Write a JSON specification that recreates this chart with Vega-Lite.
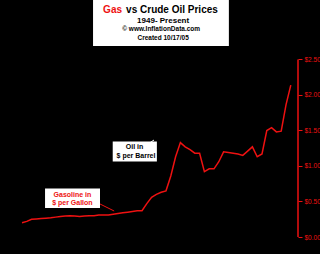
{
  "$schema": "https://vega.github.io/schema/vega-lite/v6.json",
  "autosize": "none",
  "width": 276,
  "height": 237,
  "padding": {"left": 22, "top": 0, "right": 22, "bottom": 17},
  "background": "black",
  "config": {"view": {"stroke": null}, "font": "Liberation Sans"},
  "datasets": {
    "gas": [
      {"year": 1949, "price": 0.20}, {"year": 1950, "price": 0.22}, {"year": 1951, "price": 0.25},
      {"year": 1952, "price": 0.255}, {"year": 1953, "price": 0.26}, {"year": 1954, "price": 0.265},
      {"year": 1955, "price": 0.27}, {"year": 1956, "price": 0.28}, {"year": 1957, "price": 0.29},
      {"year": 1958, "price": 0.295}, {"year": 1959, "price": 0.30}, {"year": 1960, "price": 0.295},
      {"year": 1961, "price": 0.29}, {"year": 1962, "price": 0.295}, {"year": 1963, "price": 0.30},
      {"year": 1964, "price": 0.30}, {"year": 1965, "price": 0.31}, {"year": 1966, "price": 0.31},
      {"year": 1967, "price": 0.31}, {"year": 1968, "price": 0.32}, {"year": 1969, "price": 0.33},
      {"year": 1970, "price": 0.34}, {"year": 1971, "price": 0.35}, {"year": 1972, "price": 0.36},
      {"year": 1973, "price": 0.37}, {"year": 1974, "price": 0.37}, {"year": 1975, "price": 0.47},
      {"year": 1976, "price": 0.56}, {"year": 1977, "price": 0.60}, {"year": 1978, "price": 0.63},
      {"year": 1979, "price": 0.65}, {"year": 1980, "price": 0.86}, {"year": 1981, "price": 1.13},
      {"year": 1982, "price": 1.33}, {"year": 1983, "price": 1.27}, {"year": 1984, "price": 1.23},
      {"year": 1985, "price": 1.18}, {"year": 1986, "price": 1.18}, {"year": 1987, "price": 0.92},
      {"year": 1988, "price": 0.96}, {"year": 1989, "price": 0.96}, {"year": 1990, "price": 1.06},
      {"year": 1991, "price": 1.20}, {"year": 1992, "price": 1.19}, {"year": 1993, "price": 1.18},
      {"year": 1994, "price": 1.17}, {"year": 1995, "price": 1.15}, {"year": 1996, "price": 1.21},
      {"year": 1997, "price": 1.27}, {"year": 1998, "price": 1.13}, {"year": 1999, "price": 1.17},
      {"year": 2000, "price": 1.50}, {"year": 2001, "price": 1.54}, {"year": 2002, "price": 1.48},
      {"year": 2003, "price": 1.49}, {"year": 2004, "price": 1.86}, {"year": 2005, "price": 2.14}
    ],
    "boxes": [
      {"x1": 1963.8, "x2": 1992.1, "y1": 2.69, "y2": 3.34},
      {"x1": 1967.9, "x2": 1977.1, "y1": 1.063, "y2": 1.345},
      {"x1": 1953.8, "x2": 1965.25, "y1": 0.408, "y2": 0.683}
    ]
  },
  "layer": [
    {
      "data": {"name": "boxes"},
      "mark": {"type": "rect", "fill": "white"},
      "encoding": {
        "x": {"field": "x1", "type": "quantitative", "axis": null, "scale": {"domain": [1949, 2006.5], "nice": false, "zero": false}},
        "x2": {"field": "x2"},
        "y": {
          "field": "y1", "type": "quantitative",
          "scale": {"domain": [0, 3.338], "nice": false, "zero": false},
          "axis": {
            "orient": "right", "domain": false, "grid": false, "title": null,
            "values": [0, 0.5, 1, 1.5, 2, 2.5],
            "labelExpr": "'$' + format(datum.value, '.2f')",
            "labelColor": "#ee1111", "labelFontSize": 6.5, "labelFont": "Liberation Sans",
            "tickColor": "#ee1111", "tickSize": 4, "labelPadding": 2, "tickWidth": 1
          }
        },
        "y2": {"field": "y2"}
      }
    },
    {
      "data": {"name": "gas"},
      "mark": {"type": "line", "stroke": "#ee1111", "strokeWidth": 1.5},
      "encoding": {
        "x": {"field": "year", "type": "quantitative"},
        "y": {"field": "price", "type": "quantitative"}
      }
    },
    {
      "data": {"values": [{"x": 2006.5, "y": 0, "y2": 2.5}]},
      "mark": {"type": "rule", "stroke": "#ee1111", "strokeWidth": 1.5},
      "encoding": {
        "x": {"field": "x", "type": "quantitative"},
        "y": {"field": "y", "type": "quantitative"},
        "y2": {"field": "y2"}
      }
    },
    {
      "data": {"values": [{"x": 1965.9, "y": 3.197, "t": "Gas"}]},
      "mark": {"type": "text", "color": "#ee1111", "fontWeight": "bold", "fontSize": 10, "align": "left", "baseline": "middle"},
      "encoding": {"x": {"field": "x", "type": "quantitative"}, "y": {"field": "y", "type": "quantitative"}, "text": {"field": "t"}}
    },
    {
      "data": {"values": [{"x": 1989.8, "y": 3.197, "t": "vs Crude Oil Prices"}]},
      "mark": {"type": "text", "color": "black", "fontWeight": "bold", "fontSize": 10, "align": "right", "baseline": "middle"},
      "encoding": {"x": {"field": "x", "type": "quantitative"}, "y": {"field": "y", "type": "quantitative"}, "text": {"field": "t"}}
    },
    {
      "data": {"values": [{"x": 1978.4, "y": 3.049, "t": "1949- Present"}]},
      "mark": {"type": "text", "color": "black", "fontWeight": "bold", "fontSize": 8, "align": "center", "baseline": "middle"},
      "encoding": {"x": {"field": "x", "type": "quantitative"}, "y": {"field": "y", "type": "quantitative"}, "text": {"field": "t"}}
    },
    {
      "data": {"values": [{"x": 1978.0, "y": 2.923, "t": "© www.InflationData.com"}, {"x": 1978.4, "y": 2.796, "t": "Created 10/17/05"}]},
      "mark": {"type": "text", "color": "black", "fontWeight": "bold", "fontSize": 6.5, "align": "center", "baseline": "middle"},
      "encoding": {"x": {"field": "x", "type": "quantitative"}, "y": {"field": "y", "type": "quantitative"}, "text": {"field": "t"}}
    },
    {
      "data": {"values": [{"x": 1972.45, "y": 1.268, "t": "Oil in"}, {"x": 1972.75, "y": 1.137, "t": "$ per Barrel"}]},
      "mark": {"type": "text", "color": "black", "fontWeight": "bold", "fontSize": 7, "align": "center", "baseline": "middle"},
      "encoding": {"x": {"field": "x", "type": "quantitative"}, "y": {"field": "y", "type": "quantitative"}, "text": {"field": "t"}}
    },
    {
      "data": {"values": [{"x": 1959.5, "y": 0.596, "t": "Gasoline in"}, {"x": 1959.5, "y": 0.479, "t": "$ per Gallon"}]},
      "mark": {"type": "text", "color": "#ee1111", "fontWeight": "bold", "fontSize": 7, "align": "center", "baseline": "middle"},
      "encoding": {"x": {"field": "x", "type": "quantitative"}, "y": {"field": "y", "type": "quantitative"}, "text": {"field": "t"}}
    },
    {
      "data": {"values": [{"x": 1975.25, "y": 1.31, "x2": 1976.5, "y2": 1.366}]},
      "mark": {"type": "rule", "stroke": "white", "strokeWidth": 1},
      "encoding": {"x": {"field": "x", "type": "quantitative"}, "y": {"field": "y", "type": "quantitative"}, "x2": {"field": "x2"}, "y2": {"field": "y2"}}
    },
    {
      "data": {"values": [{"x": 1965.25, "y": 0.465, "x2": 1968.2, "y2": 0.366}]},
      "mark": {"type": "rule", "stroke": "#ee1111", "strokeWidth": 1},
      "encoding": {"x": {"field": "x", "type": "quantitative"}, "y": {"field": "y", "type": "quantitative"}, "x2": {"field": "x2"}, "y2": {"field": "y2"}}
    }
  ]
}
